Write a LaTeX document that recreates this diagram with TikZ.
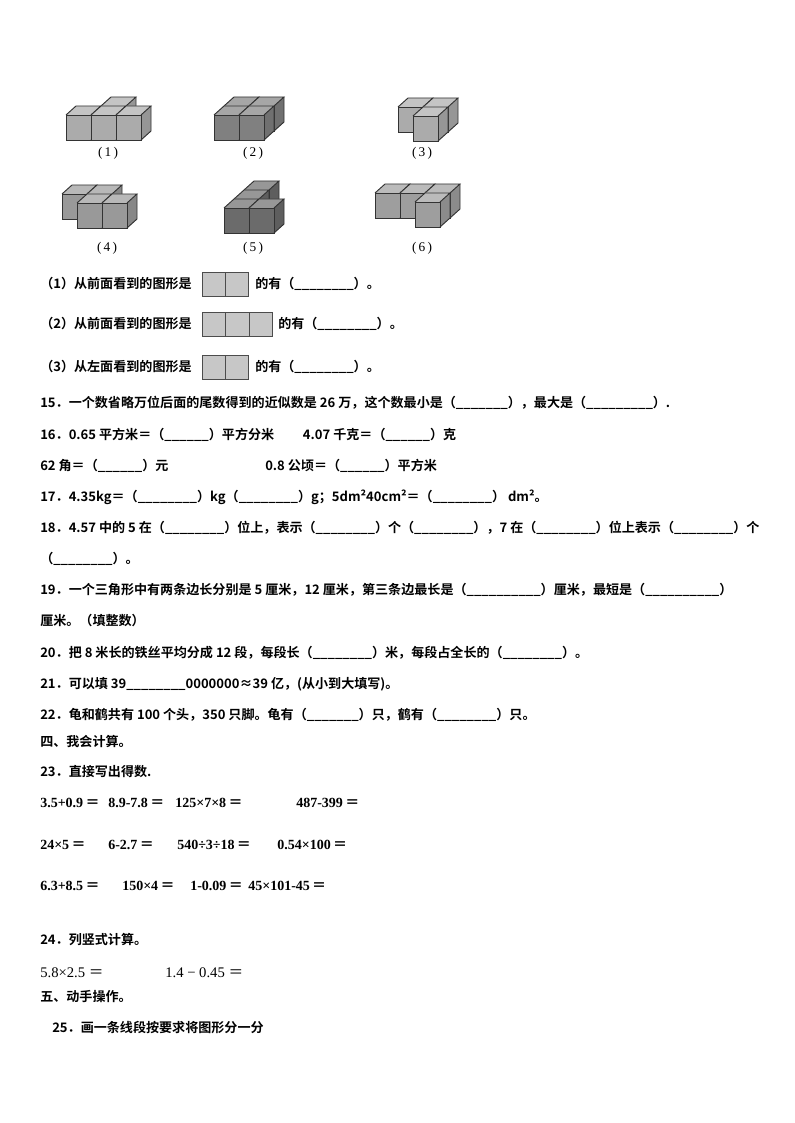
\documentclass[tikz,border=0pt]{standalone}
\usepackage{fontspec}
\setmainfont{Noto Sans CJK SC}[BoldFont={* Bold}]
\newfontfamily\lat{Liberation Serif}
\newcommand{\cb}[3]{% X Y (front-bottom-left px) gray level
 \fill[black!#3] (#1,#2) rectangle ++(25,-25);
 \fill[black!#3!white!70!white] (#1,#2-25) -- ++(10,-9) -- ++(25,0) -- ++(-10,9) -- cycle;
 \fill[black!#3!white!88!black] (#1+25,#2) -- ++(10,-9) -- ++(0,-25) -- ++(-10,9) -- cycle;
 \draw[cubeline] (#1,#2) rectangle ++(25,-25);
 \draw[cubeline] (#1,#2-25) -- ++(10,-9) -- ++(25,0) -- ++(-10,9);
 \draw[cubeline] (#1+25,#2) -- ++(10,-9) -- ++(0,-25);
}
\newcommand{\cu}[6]{\cb{#1+25*#3+10*#4}{#2-25*#5-9*#4}{#6}}% X0 Y0 x y z gray
\begin{document}
\begin{tikzpicture}[x=0.75pt,y=-0.75pt,
 cubeline/.style={draw=black!80,line width=0.7pt},
 t/.style={anchor=west,inner sep=0pt,font=\fontsize{9.8pt}{11pt}\selectfont\bfseries},
 m/.style={anchor=west,inner sep=0pt,font=\fontsize{10.5pt}{12pt}\selectfont\lat\bfseries},
 lab/.style={inner sep=0pt,font=\fontsize{10pt}{11pt}\selectfont\lat},
 sqbox/.style={draw=black!70,fill=black!22,line width=0.6pt}]
\useasboundingbox (0,0) rectangle (794,1123);
\fill[white] (0,0) rectangle (794,1123);
% figure 1
\cu{66}{140}{1}{1}{0}{33}
\cu{66}{140}{0}{0}{0}{33}\cu{66}{140}{1}{0}{0}{33}\cu{66}{140}{2}{0}{0}{33}
% figure 2
\cu{214}{140}{0}{1}{0}{50}\cu{214}{140}{1}{1}{0}{50}
\cu{214}{140}{0}{0}{0}{50}\cu{214}{140}{1}{0}{0}{50}
% figure 3
\cu{388}{141}{0}{1}{0}{33}\cu{388}{141}{1}{1}{0}{33}
\cu{388}{141}{1}{0}{0}{33}
% figure 4
\cu{52}{228}{0}{1}{0}{40}\cu{52}{228}{1}{1}{0}{40}
\cu{52}{228}{1}{0}{0}{40}\cu{52}{228}{2}{0}{0}{40}
% figure 5
\cu{224}{233}{0}{2}{0}{58}\cu{224}{233}{0}{1}{0}{58}
\cu{224}{233}{0}{0}{0}{58}\cu{224}{233}{1}{0}{0}{58}
% figure 6
\cu{365}{227}{0}{1}{0}{38}\cu{365}{227}{1}{1}{0}{38}\cu{365}{227}{2}{1}{0}{38}
\cu{365}{227}{2}{0}{0}{38}
\node[lab] (l1) at (108,153) {(\,1\,)};
\node[lab] (l2) at (253,153) {(\,2\,)};
\node[lab] (l3) at (422,153) {(\,3\,)};
\node[lab] (l4) at (107,248) {(\,4\,)};
\node[lab] (l5) at (253,248) {(\,5\,)};
\node[lab] (l6) at (422,248) {(\,6\,)};
% view questions
\node[t] (q1) at (40,284) {（1）从前面看到的图形是};
\draw[sqbox] (202,272) rectangle (225,296) (225,272) rectangle (248,296);
\node[t] (q1b) at (255,284) {的有（\_\_\_\_\_\_\_\_）。};
\node[t] (q2) at (40,324) {（2）从前面看到的图形是};
\draw[sqbox] (202,312) rectangle (225,336) (225,312) rectangle (249,336) (249,312) rectangle (272,336);
\node[t] (q2b) at (278,324) {的有（\_\_\_\_\_\_\_\_）。};
\node[t] (q3) at (40,367) {（3）从左面看到的图形是};
\draw[sqbox] (202,355) rectangle (225,379) (225,355) rectangle (248,379);
\node[t] (q3b) at (255,367) {的有（\_\_\_\_\_\_\_\_）。};
% items
\node[t] (i15) at (40,403) {15．一个数省略万位后面的尾数得到的近似数是 26 万，这个数最小是（\_\_\_\_\_\_\_），最大是（\_\_\_\_\_\_\_\_\_）.};
\node[t] (i16) at (40,435) {16．0.65 平方米＝（\_\_\_\_\_\_）平方分米\hspace{2.2em}4.07 千克＝（\_\_\_\_\_\_）克};
\node[t] (i16b) at (40,466) {62 角＝（\_\_\_\_\_\_）元};
\node[t] (i16c) at (265,466) {0.8 公顷＝（\_\_\_\_\_\_）平方米};
\node[t] (i17) at (40,497) {17．4.35kg＝（\_\_\_\_\_\_\_\_）kg（\_\_\_\_\_\_\_\_）g；5dm²40cm²＝（\_\_\_\_\_\_\_\_） dm²。};
\node[t] (i18) at (40,528) {18．4.57 中的 5 在（\_\_\_\_\_\_\_\_）位上，表示（\_\_\_\_\_\_\_\_）个（\_\_\_\_\_\_\_\_），7 在（\_\_\_\_\_\_\_\_）位上表示（\_\_\_\_\_\_\_\_）个};
\node[t] (i18b) at (40,559) {（\_\_\_\_\_\_\_\_）。};
\node[t] (i19) at (40,590) {19．一个三角形中有两条边长分别是 5 厘米，12 厘米，第三条边最长是（\_\_\_\_\_\_\_\_\_\_）厘米，最短是（\_\_\_\_\_\_\_\_\_\_）};
\node[t] (i19b) at (40,621) {厘米。（填整数）};
\node[t] (i20) at (40,653) {20．把 8 米长的铁丝平均分成 12 段，每段长（\_\_\_\_\_\_\_\_）米，每段占全长的（\_\_\_\_\_\_\_\_）。};
\node[t] (i21) at (40,684) {21．可以填 39\_\_\_\_\_\_\_\_0000000≈39 亿，(从小到大填写)。};
\node[t] (i22) at (40,715) {22．龟和鹤共有 100 个头，350 只脚。龟有（\_\_\_\_\_\_\_）只，鹤有（\_\_\_\_\_\_\_\_）只。};
\node[t] (s4) at (40,741) {四、我会计算。};
\node[t] (i23) at (40,772) {23．直接写出得数.};
\node[m] (a1) at (40,803) {3.5+0.9\,{\rmfamily＝}};
\node[m] (a2) at (108,803) {8.9-7.8\,{\rmfamily＝}};
\node[m] (a3) at (175,803) {125×7×8\,{\rmfamily＝}};
\node[m] (a4) at (296,803) {487-399\,{\rmfamily＝}};
\node[m] (b1) at (40,845) {24×5\,{\rmfamily＝}};
\node[m] (b2) at (108,845) {6-2.7\,{\rmfamily＝}};
\node[m] (b3) at (177,845) {540÷3÷18\,{\rmfamily＝}};
\node[m] (b4) at (277,845) {0.54×100\,{\rmfamily＝}};
\node[m] (c1) at (40,886) {6.3+8.5\,{\rmfamily＝}};
\node[m] (c2) at (122,886) {150×4\,{\rmfamily＝}};
\node[m] (c3) at (190,886) {1-0.09\,{\rmfamily＝}};
\node[m] (c4) at (248,886) {45×101-45\,{\rmfamily＝}};
\node[t] (i24) at (40,940) {24．列竖式计算。};
\node[anchor=west,inner sep=0pt,font=\fontsize{11pt}{12pt}\selectfont] (d1) at (40,973) {{\lat 5.8×2.5 }＝};
\node[anchor=west,inner sep=0pt,font=\fontsize{11pt}{12pt}\selectfont] (d2) at (165,973) {{\lat 1.4 − 0.45 }＝};
\node[t] (s5) at (40,997) {五、动手操作。};
\node[t] (i25) at (52,1027) {25．画一条线段按要求将图形分一分};
\end{tikzpicture}
\end{document}
